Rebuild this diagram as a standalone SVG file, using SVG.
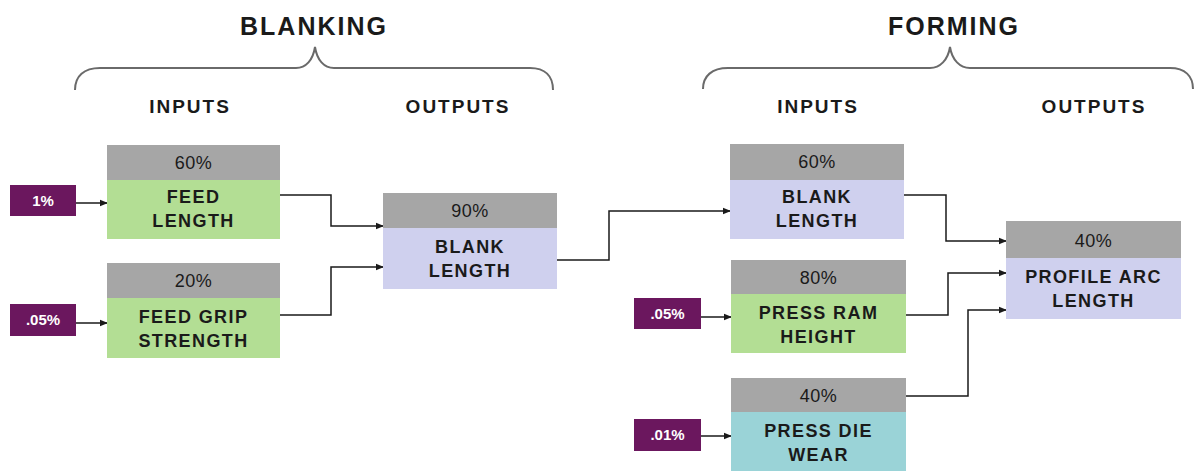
<svg xmlns="http://www.w3.org/2000/svg" width="1194" height="471" viewBox="0 0 1194 471">
<defs>
<marker id="ah" markerWidth="8" markerHeight="8" refX="7" refY="4" orient="auto" markerUnits="userSpaceOnUse">
<path d="M0,0.8 L8,4 L0,7.2 Z" fill="#1a1a1a"/>
</marker>
</defs>
<style>
text{font-family:"Liberation Sans",Arial,sans-serif;text-anchor:middle;fill:#1a1a1a}
.title{font-size:25px;font-weight:bold;letter-spacing:2px}
.sub{font-size:19px;font-weight:bold;letter-spacing:2px}
.pct{font-size:18px;letter-spacing:0.5px}
.lbl{font-size:18px;font-weight:bold;letter-spacing:1.4px}
.hd{fill:#a6a6a6}
.green{fill:#b3de94}
.lav{fill:#cfd0ee}
.teal{fill:#9ad3d7}
.src{fill:#6b175e}
.srct{font-size:15px;font-weight:bold;fill:#ffffff}
.brace{fill:none;stroke:#6a6a6a;stroke-width:2}
.conn{fill:none;stroke:#1a1a1a;stroke-width:1.5;marker-end:url(#ah)}
</style>
<rect width="1194" height="471" fill="#ffffff"/>

<g id="headers">
<text class="title" x="314" y="35">BLANKING</text>
<path class="brace" d="M75,90 C75,76 84,68 100,68 H296 C306,68 313,60 315,47 C317,60 324,68 334,68 H530 C545,68 553,76 553,90"/>
<text class="sub" x="190" y="113">INPUTS</text>
<text class="sub" x="458" y="113">OUTPUTS</text>
<text class="title" x="954" y="35">FORMING</text>
<path class="brace" d="M703,89 C703,76 712,68 728,68 H930 C940,68 948,60 950,47 C952,60 960,68 970,68 H1170 C1185,68 1193,76 1193,89"/>
<text class="sub" x="818" y="113">INPUTS</text>
<text class="sub" x="1094" y="113">OUTPUTS</text>
</g>

<g id="connectors">
<path class="conn" d="M76,203 H107"/>
<path class="conn" d="M76,323 H107"/>
<path class="conn" d="M280,195 H331 V226 H383"/>
<path class="conn" d="M280,315 H331 V267 H383"/>
<path class="conn" d="M557,260 H609 V211 H730"/>
<path class="conn" d="M701,317 H731"/>
<path class="conn" d="M701,436 H731"/>
<path class="conn" d="M904,195 H946 V241 H1006"/>
<path class="conn" d="M906,315 H948 V273 H1006"/>
<path class="conn" d="M906,396 H968 V310 H1006"/>
</g>

<g id="src-feed-length">
<rect class="src" x="10" y="185" width="66" height="31"/>
<text class="srct" x="43" y="206">1%</text>
</g>
<g id="src-feed-grip">
<rect class="src" x="10" y="304" width="66" height="32"/>
<text class="srct" x="43" y="325">.05%</text>
</g>
<g id="src-press-ram">
<rect class="src" x="634" y="298" width="67" height="31"/>
<text class="srct" x="667.5" y="319">.05%</text>
</g>
<g id="src-press-die">
<rect class="src" x="634" y="419" width="67" height="32"/>
<text class="srct" x="667.5" y="440">.01%</text>
</g>

<g id="node-feed-length">
<rect class="hd" x="107" y="145" width="173" height="35"/>
<rect class="green" x="107" y="180" width="173" height="59"/>
<text class="pct" x="193.5" y="169">60%</text>
<text class="lbl" x="193.5" y="203">FEED</text>
<text class="lbl" x="193.5" y="227">LENGTH</text>
</g>

<g id="node-feed-grip">
<rect class="hd" x="107" y="263" width="173" height="35"/>
<rect class="green" x="107" y="298" width="173" height="60"/>
<text class="pct" x="193.5" y="287">20%</text>
<text class="lbl" x="193.5" y="323">FEED GRIP</text>
<text class="lbl" x="193.5" y="347">STRENGTH</text>
</g>

<g id="node-blank-length-out">
<rect class="hd" x="383" y="193" width="174" height="35"/>
<rect class="lav" x="383" y="228" width="174" height="61"/>
<text class="pct" x="470" y="217">90%</text>
<text class="lbl" x="470" y="253">BLANK</text>
<text class="lbl" x="470" y="277">LENGTH</text>
</g>

<g id="node-blank-length-in">
<rect class="hd" x="730" y="144" width="174" height="36"/>
<rect class="lav" x="730" y="180" width="174" height="59"/>
<text class="pct" x="817" y="168">60%</text>
<text class="lbl" x="817" y="203">BLANK</text>
<text class="lbl" x="817" y="227">LENGTH</text>
</g>

<g id="node-press-ram">
<rect class="hd" x="731" y="260" width="175" height="34"/>
<rect class="green" x="731" y="294" width="175" height="59"/>
<text class="pct" x="818.5" y="284">80%</text>
<text class="lbl" x="818.5" y="319">PRESS RAM</text>
<text class="lbl" x="818.5" y="343">HEIGHT</text>
</g>

<g id="node-press-die">
<rect class="hd" x="731" y="378" width="175" height="34"/>
<rect class="teal" x="731" y="412" width="175" height="59"/>
<text class="pct" x="818.5" y="402">40%</text>
<text class="lbl" x="818.5" y="437">PRESS DIE</text>
<text class="lbl" x="818.5" y="461">WEAR</text>
</g>

<g id="node-profile-arc">
<rect class="hd" x="1006" y="221" width="175" height="37"/>
<rect class="lav" x="1006" y="258" width="175" height="61"/>
<text class="pct" x="1093.5" y="247">40%</text>
<text class="lbl" x="1093.5" y="283">PROFILE ARC</text>
<text class="lbl" x="1093.5" y="307">LENGTH</text>
</g>
</svg>
